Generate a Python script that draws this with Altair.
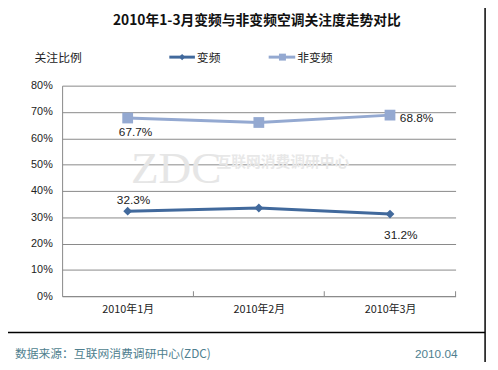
import altair as alt
import pandas as pd

months = ["2010年1月", "2010年2月", "2010年3月"]
inverter = [32.3, 33.5, 31.2]
non_inverter = [67.7, 66.0, 68.8]
series_names = ["变频", "非变频"]
colors = ["#41699C", "#94A9D1"]

rows = []
for m, v in zip(months, inverter):
    rows.append({"month": m, "series": series_names[0], "value": v, "label": f"{v:.1f}%"})
for m, v in zip(months, non_inverter):
    rows.append({"month": m, "series": series_names[1], "value": v, "label": f"{v:.1f}%"})
df = pd.DataFrame(rows)

FONT = "Liberation Sans"
CJK = "Noto Sans CJK SC"

x_enc = alt.X("month:N", sort=months, title=None,
              scale=alt.Scale(paddingInner=0, paddingOuter=0),
              axis=alt.Axis(labelAngle=0, labelFont=CJK, labelFontSize=11, labelColor="#222",
                            labelPadding=8, domainColor="#888", ticks=False, grid=False))
y_enc = alt.Y("value:Q", title=None,
              scale=alt.Scale(domain=[0, 80]),
              axis=alt.Axis(values=[0, 10, 20, 30, 40, 50, 60, 70, 80],
                            labelExpr="datum.value + '%'", labelFont=FONT, labelFontSize=11,
                            labelColor="#222", labelPadding=10, ticks=False,
                            domainColor="#888", gridColor="#888", gridOpacity=1, gridWidth=1))

base = alt.Chart(df)

lines = base.mark_line(strokeWidth=3).encode(
    x=x_enc, y=y_enc,
    color=alt.Color("series:N", scale=alt.Scale(domain=series_names, range=colors), legend=None))

pts_inv = base.transform_filter(alt.datum.series == series_names[0]).mark_point(
    shape="diamond", filled=True, size=80, opacity=1, color=colors[0]).encode(x=x_enc, y=y_enc)
pts_non = base.transform_filter(alt.datum.series == series_names[1]).mark_point(
    shape="square", filled=True, size=120, opacity=1, color=colors[1]).encode(x=x_enc, y=y_enc)

def label(series, month, dx, dy, align="center"):
    return base.transform_filter(
        (alt.datum.series == series) & (alt.datum.month == month)
    ).mark_text(font=FONT, fontSize=12, color="#222", dx=dx, dy=dy, align=align).encode(
        x=x_enc, y=y_enc, text="label:N")

labels = [
    label(series_names[1], months[0], 8, 14),
    label(series_names[0], months[0], 6, -11),
    label(series_names[1], months[2], 10, 3, "left"),
    label(series_names[0], months[2], 11, 21),
]

def txt(s, x, y, size=12, color="#222", align="left", weight="normal", font=CJK, opacity=1.0):
    return alt.Chart(pd.DataFrame({"t": [s]})).mark_text(
        font=font, fontSize=size, color=color, align=align, baseline="middle",
        fontWeight=weight, opacity=opacity
    ).encode(x=alt.value(x), y=alt.value(y), text="t:N")

def rule(x, x2=None, y=None, y2=None, color="#000", w=1.5):
    enc = {"x": alt.value(x)}
    if x2 is not None:
        enc["x2"] = alt.value(x2)
    if y is not None:
        enc["y"] = alt.value(y)
    if y2 is not None:
        enc["y2"] = alt.value(y2)
    return alt.Chart(pd.DataFrame({"a": [0]})).mark_rule(color=color, strokeWidth=w).encode(**enc)

title = txt("2010年1-3月变频与非变频空调关注度走势对比", 198, -66, size=14, weight="bold", align="center", color="#111")
ylab = txt("关注比例", -28, -28, size=12)
leg1_line = rule(109, 135, -29, color=colors[0], w=3)
leg1_pt = alt.Chart(pd.DataFrame({"a": [0]})).mark_point(shape="diamond", filled=True, size=40, color=colors[0], opacity=1).encode(
    x=alt.value(122), y=alt.value(-29))
leg1_t = txt("变频", 137, -28)
leg2_line = rule(210, 237, -29, color=colors[1], w=3)
leg2_pt = alt.Chart(pd.DataFrame({"a": [0]})).mark_point(shape="square", filled=True, size=50, color=colors[1], opacity=1).encode(
    x=alt.value(224), y=alt.value(-29))
leg2_t = txt("非变频", 239, -28)

wm1 = txt("ZDC", 70, 85, size=46, color="#e6e6e6", font="Liberation Serif")
wm2 = txt("互联网消费调研中心", 157, 78, size=15, color="#e8e8e8", weight="bold")

ticks = [rule(x, None, 209, 214, color="#888", w=1) for x in (133.5, 266.5, 400)]

hline = rule(-63, 430, 251)
vline = rule(430, None, -84, 286)

foot1 = txt("数据来源：互联网消费调研中心(ZDC)", -48, 273, size=12, color="#4f7f8f")
foot2 = txt("2010.04", 402, 273, size=12, color="#4f7f8f", align="right", font=FONT)

chart = alt.layer(
    wm1, wm2, *ticks, lines, pts_inv, pts_non, *labels,
    title, ylab, leg1_line, leg1_pt, leg1_t, leg2_line, leg2_pt, leg2_t,
    hline, vline, foot1, foot2
).properties(
    width=400, height=214,
    autosize=alt.AutoSizeParams(type="none"),
    padding={"left": 55, "top": 76, "right": 35, "bottom": 64},
    background="white",
).configure_view(stroke=None)

chart.save("out.html", embed_options={"renderer": "svg", "actions": False})
